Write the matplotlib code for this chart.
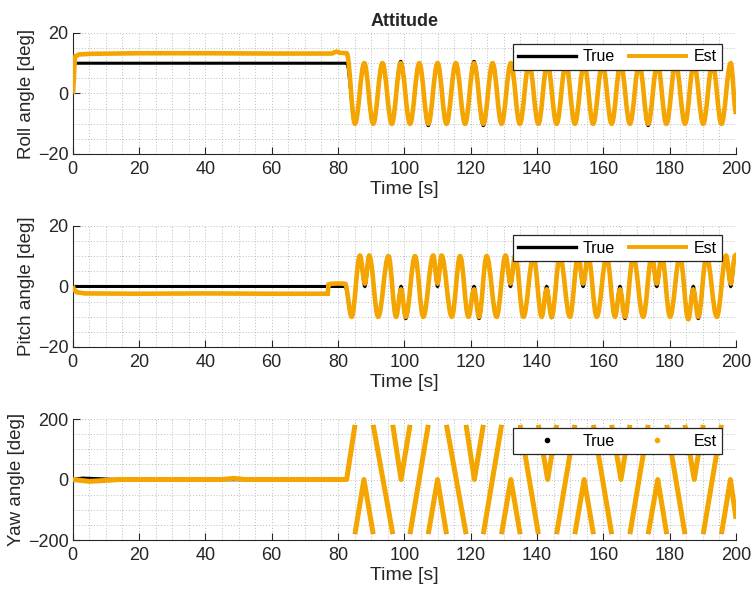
import numpy as np
import matplotlib.pyplot as plt
from matplotlib.lines import Line2D
from matplotlib.path import Path
from matplotlib.patches import PathPatch
from matplotlib.ticker import MultipleLocator

plt.rcParams['font.family'] = ['Liberation Sans', 'DejaVu Sans']

nan = np.nan
EST_COLOR = '#F5A500'
TXT = '#262626'

# ---- roll [deg] ----
roll_true_pre_t = [0, 82.6]
roll_true_pre = [10, 10]
roll_est_pre_t = [0, 0.8, 2, 5, 20, 40, 60, 78, 79.5, 81, 82.6]
roll_est_pre = [0, 12.3, 12.9, 13.1, 13.3, 13.3, 13.2, 13.2, 13.8, 13.4, 13.3]
roll_osc_t = [85.1, 87.9, 90.6, 93.4, 96.2, 98.9, 101.7, 104.5, 107.2, 110.0,
              112.7, 115.5, 118.3, 121.0, 123.8, 126.6, 129.3, 132.1, 134.8,
              137.6, 140.4, 143.1, 145.9, 148.7, 151.4, 154.2, 156.9, 159.7,
              162.5, 165.2, 168.0, 170.8, 173.5, 176.3, 179.0, 181.8, 184.6,
              187.3, 190.1, 192.9, 195.6, 198.4, 200.0]
roll_osc_true = [-10, 10, -10, 10, -10, 10.6, -10, 10, -10.6, 10,
                 -10, 10, -10, 10.6, -10.6, 10, -10, 10, -10,
                 10, -10, 10, -10, 10, -10, 10, -10, 10,
                 -10, 10, -10, 10, -10.6, 10, -10, 10, -10,
                 10, -10, 10, -10, 10, -6.5]
roll_osc_est = [-10, 10, -10, 10, -10, 10, -10, 10, -10, 10,
                -10, 10, -10, 10, -10, 10, -10, 10, -10,
                10, -10, 10, -10, 10, -10, 10, -10, 10,
                -10, 10, -10, 10, -10, 10, -10, 10, -10,
                10, -10, 10, -10, 10, -6.5]

# ---- pitch [deg] ----
pitch_true_pre_t = [0, 82.1]
pitch_true_pre = [0, 0]
pitch_est_pre_t = [0, 0.5, 1.5, 4, 20, 40, 60, 76.9, 77.1, 78, 80, 82.1]
pitch_est_pre = [0, -1.2, -2.0, -2.3, -2.4, -2.3, -2.4, -2.4, 0.6, 0.9, 1.0, 0.9]
pitch_osc_t = [84.1, 86.6, 88.1, 89.4, 92.1, 95.2, 97.5, 99.0, 100.4, 103.2,
               105.7, 108.7, 110.0, 111.2, 114.3, 116.8, 119.3, 121.0, 122.5,
               124.8, 127.8, 130.5, 132.0, 133.4, 135.9, 138.9, 141.4, 142.9,
               144.4, 146.9, 149.9, 152.4, 153.9, 155.4, 158.0, 161.0, 163.5,
               165.0, 166.5, 169.0, 172.0, 174.6, 176.1, 177.6, 180.1, 183.1,
               185.6, 187.1, 188.6, 191.1, 194.2, 197.0, 198.4, 199.7, 200.0]
pitch_osc_true = [-10, 10, 0, 10, -10, 10, -10, 0, -10.6, 10,
                  -10, 10, 0, 10, -10, 10, -10, 0, -10.6,
                  10, -10, 10, 0, 10, -10, 10, -10, 0,
                  -10.3, 10, -10, 10, 0, 10, -10, 10, -10,
                  0, -10.6, 10, -10, 10, 0, 10, -10, 10,
                  -10, 0, -10.6, 10, -10, 10, 0, 10, 9]
pitch_osc_est = [-10, 10.2, 1, 10.2, -10, 10, -10, -1, -10, 10,
                 -10, 10.2, 1, 10.2, -10, 10, -10, -1, -10,
                 10, -10, 10.2, 1, 10.2, -10, 10, -10, -1,
                 -10, 10, -10, 10.2, 1, 10.2, -10, 10, -10,
                 -1, -10, 10, -10, 10.2, 1, 10.2, -10, 10,
                 -10.8, -1, -10, 10, -10, 10.2, 1, 10.2, 9]

# ---- yaw [deg], wrapped to +-180 (nan = wrap) ----
yaw_true_pre_t = [0, 3, 8, 12, 82.6]
yaw_true_pre = [0, 4, 2, 0, 0]
yaw_est_pre_t = [0, 5, 10, 14, 45, 48.5, 52, 82.6]
yaw_est_pre = [0, -6, -3, 0, 0, 4, 0, 0]
yaw_osc_t = [85.1, nan, 85.1, 87.8, 90.6, nan, 90.6, 96.5, nan,
             96.5, 99.0, 101.7, nan, 101.7, 107.2, nan,
             107.2, 110.0, 112.7, nan, 112.7, 118.6, nan,
             118.6, 121.1, 123.8, nan, 123.8, 129.3, nan,
             129.3, 132.1, 134.9, nan, 134.9, 140.4, nan,
             140.4, 143.2, 145.9, nan, 145.9, 151.4, nan,
             151.4, 154.2, 157.0, nan, 157.0, 162.5, nan,
             162.5, 165.3, 168.0, nan, 168.0, 173.5, nan,
             173.5, 176.4, 179.1, nan, 179.1, 184.6, nan,
             184.6, 187.4, 190.1, nan, 190.1, 195.6, nan,
             195.6, 198.3, 200.0]
yaw_osc = [180, nan, -180, 0, -180, nan, 180, -180, nan,
           180, 0, 180, nan, -180, 180, nan,
           -180, 0, -180, nan, 180, -180, nan,
           180, 0, 180, nan, -180, 180, nan,
           -180, 0, -180, nan, 180, -180, nan,
           180, 0, 180, nan, -180, 180, nan,
           -180, 0, -180, nan, 180, -180, nan,
           180, 0, 180, nan, -180, 180, nan,
           -180, 0, -180, nan, 180, -180, nan,
           180, 0, 180, nan, -180, 180, nan,
           -180, 0, -130]


def smooth_path(t, y, k=0.363):
    # cubic bezier through the read extrema, flat tangent at each of them
    verts = [(t[0], y[0])]
    codes = [Path.MOVETO]
    for i in range(len(t) - 1):
        dt = t[i + 1] - t[i]
        verts += [(t[i] + k * dt, y[i]), (t[i + 1] - k * dt, y[i + 1]),
                  (t[i + 1], y[i + 1])]
        codes += [Path.CURVE4] * 3
    return Path(verts, codes)


panels = [
    ('Roll angle [deg]', roll_true_pre_t + roll_osc_t, roll_true_pre + roll_osc_true,
     roll_est_pre_t + roll_osc_t, roll_est_pre + roll_osc_est, 20, 5, False),
    ('Pitch angle [deg]', pitch_true_pre_t + pitch_osc_t, pitch_true_pre + pitch_osc_true,
     pitch_est_pre_t + pitch_osc_t, pitch_est_pre + pitch_osc_est, 20, 5, False),
    ('Yaw angle [deg]', yaw_true_pre_t + yaw_osc_t, yaw_true_pre + yaw_osc,
     yaw_est_pre_t + yaw_osc_t, yaw_est_pre + yaw_osc, 200, 50, True),
]
bottoms = [0.7399, 0.4139, 0.0878]
legend_tops = [0.912, 0.923, 0.926]

fig = plt.figure(figsize=(7.55, 5.92), dpi=100)

for i, (ylab, tt, yt, te, ye, lim, minor, dots) in enumerate(panels):
    ax = fig.add_axes([0.0963, bottoms[i], 0.8786, 0.2044])
    if dots:
        ax.plot(tt, yt, color='k', lw=2.5, solid_capstyle='butt',
                solid_joinstyle='round', zorder=3)
        ax.plot(te, ye, color=EST_COLOR, lw=3.6, solid_capstyle='butt',
                solid_joinstyle='round', zorder=4)
    else:
        ax.add_patch(PathPatch(smooth_path(tt, yt), fill=False, edgecolor='k',
                               lw=2.2, capstyle='butt', zorder=3))
        ax.add_patch(PathPatch(smooth_path(te, ye), fill=False,
                               edgecolor=EST_COLOR, lw=3.3, capstyle='butt',
                               zorder=4))
    ax.set_xlim(0, 200)
    ax.set_ylim(-lim, lim)
    ax.xaxis.set_major_locator(MultipleLocator(20))
    ax.xaxis.set_minor_locator(MultipleLocator(5))
    ax.yaxis.set_major_locator(MultipleLocator(lim))
    ax.yaxis.set_minor_locator(MultipleLocator(minor))
    ax.grid(which='both', color='#bdbdbd', lw=0.7, linestyle=(0, (1, 2)))
    ax.set_axisbelow(True)
    for s in ['top', 'right']:
        ax.spines[s].set_visible(False)
    for s in ['left', 'bottom']:
        ax.spines[s].set_color(TXT)
        ax.spines[s].set_linewidth(0.8)
    ax.tick_params(which='major', direction='in', length=5, width=0.8,
                   colors=TXT, labelsize=13)
    ax.tick_params(axis='x', pad=5)
    ax.tick_params(axis='y', pad=3)
    ax.tick_params(which='minor', length=0)
    ax.set_xlabel('Time [s]', fontsize=14, color=TXT, labelpad=2)
    ax.set_ylabel(ylab, fontsize=13.5, color=TXT, labelpad=2)

    if dots:
        handles = [Line2D([], [], color='k', marker='.', ls='none', ms=6),
                   Line2D([], [], color=EST_COLOR, marker='.', ls='none', ms=6)]
    else:
        handles = [Line2D([], [], color='k', lw=2.4),
                   Line2D([], [], color=EST_COLOR, lw=2.8)]
    leg = ax.legend(handles, ['True', 'Est'], ncol=2, loc='upper right',
                    bbox_to_anchor=(0.979, legend_tops[i]), borderaxespad=0,
                    fontsize=11.5, handlelength=3.6, handletextpad=0.45,
                    columnspacing=0.85, borderpad=0.35, fancybox=False,
                    framealpha=1, edgecolor=TXT)
    leg.get_frame().set_linewidth(0.9)
    leg.set_zorder(10)
    if i == 0:
        ax.set_title('Attitude', fontsize=13, fontweight='bold', color=TXT, pad=5)

fig.savefig('out.png', dpi=100)
